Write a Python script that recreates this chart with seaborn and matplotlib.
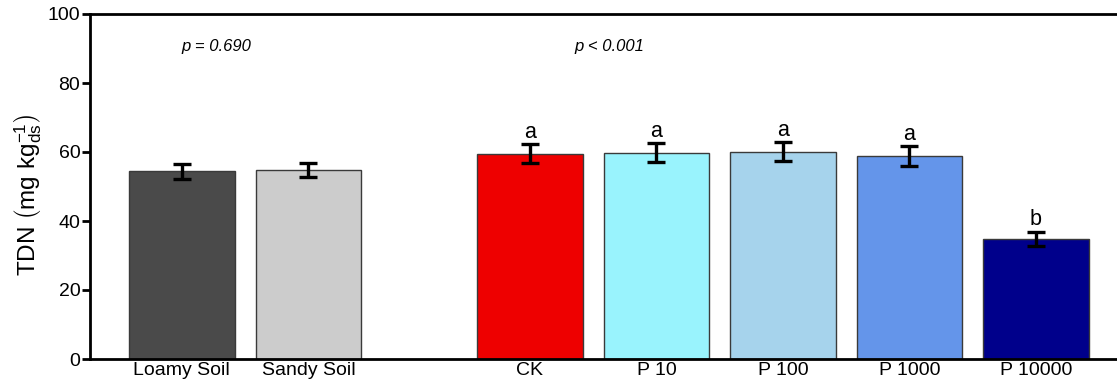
import numpy as np
import pandas as pd
import matplotlib
matplotlib.use("Agg")
import matplotlib.pyplot as plt
import seaborn as sns

# Total dissolved nitrogen by soil type and treatment
groups = ["Loamy Soil", "Sandy Soil", "CK", "P 10", "P 100", "P 1000", "P 10000"]
tdn_mean = [54.4, 54.8, 59.5, 59.8, 60.1, 58.8, 34.8]
tdn_se = [2.1, 2.0, 2.8, 2.8, 2.8, 2.8, 2.1]
letters = ["", "", "a", "a", "a", "a", "b"]
bar_colors = ["#4a4a4a", "#cccccc", "#ee0000", "#99f3fd", "#a6d3ec", "#6495ea", "#00008b"]
positions = [0.0, 1.0, 2.75, 3.75, 4.75, 5.75, 6.75]
p_texts = ["p = 0.690", "p < 0.001"]
p_pos = [0.27, 3.38]

sns.set_theme(style="white")
plt.rcParams["font.family"] = ["Liberation Sans", "DejaVu Sans"]
plt.rcParams["mathtext.fontset"] = "custom"
plt.rcParams["mathtext.rm"] = "Liberation Sans"
plt.rcParams["mathtext.it"] = "Liberation Sans:italic"
for key in ["text.color", "axes.labelcolor", "xtick.color", "ytick.color"]:
    plt.rcParams[key] = "black"

df = pd.DataFrame({"pos": positions, "group": groups, "tdn": tdn_mean})

fig = plt.figure(figsize=(11.17, 3.87), dpi=100)
ax = fig.add_axes([90 / 1117, 28 / 387, 1 - 90 / 1117, (359 - 14) / 387])

sns.barplot(data=df, x="pos", y="tdn", hue="group", palette=bar_colors,
            native_scale=True, width=0.835, dodge=False, legend=False,
            saturation=1, edgecolor="#3a3a3a", linewidth=1.0, ax=ax)

ax.errorbar(positions, tdn_mean, yerr=tdn_se, fmt="none", ecolor="black",
            elinewidth=2.4, capsize=6.5, capthick=2.4, zorder=5)

for x, m, s, lab in zip(positions, tdn_mean, tdn_se, letters):
    if lab:
        ax.annotate(lab, (x, m + s), xytext=(0, 1), textcoords="offset points",
                    ha="center", va="bottom", fontsize=15.5)

for x, t in zip(p_pos, p_texts):
    ax.text(x, 90.5, t, ha="center", va="center", fontsize=12, style="italic")

ax.set_xlim(-0.726, 7.39)
ax.set_ylim(0, 100)
ax.set_yticks([0, 20, 40, 60, 80, 100])
ax.set_xticks(positions)
ax.set_xticklabels(groups, fontsize=14)
ax.tick_params(axis="y", labelsize=14, length=6, width=2, direction="out", pad=1, left=True)
ax.tick_params(axis="x", length=0, pad=2)
ax.set_xlabel("")
ax.set_ylabel(r"TDN $\left(\mathrm{mg\ kg_{ds}^{-1}}\right)$", fontsize=17.5)
ax.yaxis.set_label_coords(-0.0448, 0.475)

for side in ["left", "bottom", "top"]:
    ax.spines[side].set_linewidth(2)
    ax.spines[side].set_color("black")
ax.spines["right"].set_visible(False)

fig.savefig("out.png", dpi=100)
